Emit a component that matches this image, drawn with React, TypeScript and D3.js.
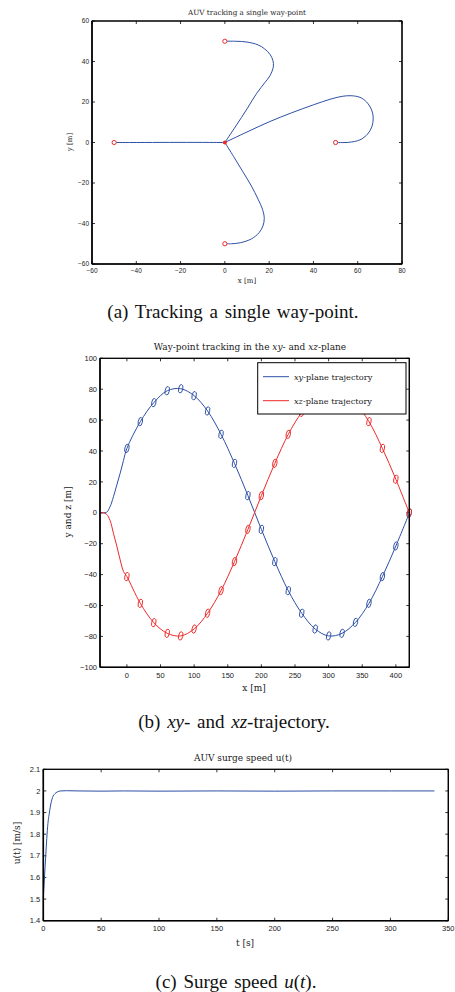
import React, { useRef, useEffect } from 'react';
import * as d3 from 'd3';

// (a) single way-point tracking
const wayPoints = [[-50, 0], [0, 50], [50, 0], [0, -50]];
const pathWest = [[0, 0], [-10, 0.05], [-25, 0.05], [-40, 0], [-50, 0]];
const pathNorth = [[0, 0], [5, 8.2], [10, 16.6], [14.4, 24.3], [18, 29.5], [20.4, 33], [21.9, 37.5], [21.7, 40.5], [20.4, 43.5], [18, 46.2], [15, 48.2], [10, 49.6], [5, 50], [0, 50]];
const pathEast = [[0, 0], [10, 5.2], [20, 10.2], [30, 14.6], [40, 18.6], [48, 21.5], [53, 22.8], [57, 23.1], [61, 22.3], [64, 20], [66.3, 16], [67, 12], [66.4, 7.8], [64.5, 4.2], [61, 1.3], [56, 0.1], [50, 0]];
const pathSouth = [[0, 0], [4, -7], [8, -14.2], [12, -21.5], [15, -28], [17, -33], [17.8, -37.5], [17.2, -41.2], [15.5, -44.5], [12, -47.6], [7, -49.5], [3, -50], [0, -50]];

// (b) xy- and xz-plane
const leadX = [-40, -35, -30, -25, -20, -15, -10, -5];
const xyLead = [0, 0, 0.4, 4, 10.4, 18, 25.6, 34];
const xzLead = [0, 0, -1, -5, -13.3, -21.5, -30.5, -38];
const markerX = [0, 20, 40, 60, 80, 100, 120, 140, 160, 180, 200, 220, 240, 260, 280, 300, 320, 340, 360, 380, 400, 420];
const xyMarks = [41.7, 59, 71.3, 79, 80.3, 75.8, 65.9, 50.8, 32, 11.1, -10.7, -31.6, -50.4, -65, -75.2, -79.7, -78, -70.9, -58.6, -41.3, -21.5, -0.3];
const xzMarks = [-41.3, -58.6, -71.1, -78, -79.7, -75.2, -65, -50.4, -31.6, -10.7, 11.1, 32, 50.8, 65, 75.2, 79.7, 78, 70.9, 59, 41.7, 21.7, 0];

// (c) surge speed
const tSec = [0, 1, 2, 3, 4, 5, 6, 7, 8, 10, 12, 15, 20, 30, 50, 70, 100, 150, 200, 250, 300, 338];
const uSpeed = [1.5, 1.6, 1.69, 1.78, 1.85, 1.89, 1.925, 1.952, 1.97, 1.987, 1.995, 2.0, 2.001, 2.0, 1.999, 2.0, 1.999, 2.0, 1.999, 2.0, 2.0, 2.0];

const BLUE = '#2d4fa6';
const RED = '#f02828';
const SANS = 'Liberation Sans, Arial, sans-serif';
const SERIF = 'DejaVu Serif, serif';
const TIMES = 'Liberation Serif, Times New Roman, serif';

const minus = (v: number, f?: (n: number) => string) => {
  const s = f ? f(Math.abs(v)) : String(Math.abs(v));
  return v < 0 ? '\u2212' + s : s;
};

// MATLAB-ish box with inward ticks on all sides
function drawBox(svg: any, o: any) {
  const xs = d3.scaleLinear().domain(o.xDomain).range([o.left, o.right]);
  const ys = d3.scaleLinear().domain(o.yDomain).range([o.bottom, o.top]);
  const g = svg.append('g');
  const tl = 3;

  g.append('rect')
    .attr('x', o.left).attr('y', o.top)
    .attr('width', o.right - o.left).attr('height', o.bottom - o.top)
    .attr('fill', 'white').attr('stroke', '#000').attr('stroke-width', 1);

  o.xTicks.forEach((t: number) => {
    const x = xs(t);
    g.append('line').attr('x1', x).attr('x2', x).attr('y1', o.bottom).attr('y2', o.bottom - tl).attr('stroke', '#000').attr('stroke-width', 0.8);
    g.append('line').attr('x1', x).attr('x2', x).attr('y1', o.top).attr('y2', o.top + tl).attr('stroke', '#000').attr('stroke-width', 0.8);
    g.append('text')
      .attr('x', x).attr('y', o.bottom + o.xLabDy)
      .attr('text-anchor', 'middle')
      .style('font-family', SANS).style('font-size', o.fs).style('fill', '#222')
      .text(minus(t));
  });
  o.yTicks.forEach((t: number) => {
    const y = ys(t);
    g.append('line').attr('x1', o.left).attr('x2', o.left + tl).attr('y1', y).attr('y2', y).attr('stroke', '#000').attr('stroke-width', 0.8);
    g.append('line').attr('x1', o.right).attr('x2', o.right - tl).attr('y1', y).attr('y2', y).attr('stroke', '#000').attr('stroke-width', 0.8);
    g.append('text')
      .attr('x', o.left - 3).attr('y', y).attr('dy', '0.35em')
      .attr('text-anchor', 'end')
      .style('font-family', SANS).style('font-size', o.fs).style('fill', '#222')
      .text(minus(t, o.yFmt));
  });

  return { xs, ys, g };
}

function frame(svg: any, o: any) {
  // thicker left & bottom edge, like the print
  svg.append('line').attr('x1', o.left).attr('x2', o.right).attr('y1', o.bottom).attr('y2', o.bottom).attr('stroke', '#000').attr('stroke-width', 1.6);
  svg.append('line').attr('x1', o.left).attr('x2', o.left).attr('y1', o.top).attr('y2', o.bottom).attr('stroke', '#000').attr('stroke-width', 1.6);
  svg.append('line').attr('x1', o.right).attr('x2', o.right).attr('y1', o.top).attr('y2', o.bottom).attr('stroke', '#000').attr('stroke-width', 1.2);
  svg.append('line').attr('x1', o.left).attr('x2', o.right).attr('y1', o.top).attr('y2', o.top).attr('stroke', '#000').attr('stroke-width', 1);
}

function serifText(svg: any, x: number, y: number, size: number, parts: [string, boolean][], rotate = false, family = SERIF) {
  const t = svg.append('text')
    .attr('x', x).attr('y', y)
    .attr('text-anchor', 'middle')
    .style('font-family', family).style('font-size', size).style('fill', '#222');
  if (rotate) t.attr('transform', `rotate(-90,${x},${y})`);
  parts.forEach(([s, it]) => {
    t.append('tspan').style('font-style', it ? 'italic' : 'normal').text(s);
  });
  return t;
}

function caption(svg: any, x: number, y: number, parts: [string, boolean][]) {
  return serifText(svg, x, y, 19, parts, false, TIMES).style('word-spacing', '2px').style('fill', '#111');
}

const App = () => {
  const ref = useRef<SVGSVGElement>(null);

  useEffect(() => {
    const svg = d3.select(ref.current);
    svg.selectAll('*').remove();

    // ---------- (a)
    const oa = {
      left: 92, right: 402, top: 21, bottom: 264,
      xDomain: [-60, 80], yDomain: [-60, 60],
      xTicks: d3.range(-60, 81, 20), yTicks: d3.range(-60, 61, 20),
      fs: 6.5, xLabDy: 9,
    };
    const A = drawBox(svg, oa);
    const lineA = d3.line<number[]>().x(d => A.xs(d[0])).y(d => A.ys(d[1])).curve(d3.curveCatmullRom);
    [pathWest, pathNorth, pathEast, pathSouth].forEach(p => {
      svg.append('path').attr('d', lineA(p)).attr('fill', 'none').attr('stroke', BLUE).attr('stroke-width', 1);
    });
    wayPoints.forEach(p => {
      svg.append('circle').attr('cx', A.xs(p[0])).attr('cy', A.ys(p[1])).attr('r', 2.1)
        .attr('fill', 'white').attr('stroke', RED).attr('stroke-width', 1);
    });
    svg.append('circle').attr('cx', A.xs(0)).attr('cy', A.ys(0)).attr('r', 2).attr('fill', RED);
    frame(svg, oa);
    serifText(svg, 247, 15, 7.2, [['AUV tracking a single way-point', false]]);
    serifText(svg, 247, 283, 7, [['x [m]', false]]);
    serifText(svg, 72, 142, 7, [['y [m]', false]], true);
    caption(svg, 233, 318, [['(a) Tracking a single way-point.', false]]);

    // ---------- (b)
    const ob = {
      left: 100, right: 409.3, top: 358.3, bottom: 667.3,
      xDomain: [-40, 420], yDomain: [-100, 100],
      xTicks: d3.range(0, 401, 50), yTicks: d3.range(-100, 101, 20),
      fs: 7.5, xLabDy: 10.5,
    };
    const B = drawBox(svg, ob);
    const lineB = d3.line<number[]>().x(d => B.xs(d[0])).y(d => B.ys(d[1])).curve(d3.curveCatmullRom);
    const xyPts = leadX.map((x, i) => [x, xyLead[i]]).concat(markerX.map((x, i) => [x, xyMarks[i]]));
    const xzPts = leadX.map((x, i) => [x, xzLead[i]]).concat(markerX.map((x, i) => [x, xzMarks[i]]));
    const plot = svg.append('g');
    [[xyPts, xyMarks, BLUE], [xzPts, xzMarks, RED]].forEach(([pts, marks, col]: any) => {
      plot.append('path').attr('d', lineB(pts)).attr('fill', 'none').attr('stroke', col).attr('stroke-width', 1);
      markerX.forEach((x, i) => {
        plot.append('ellipse').attr('cx', B.xs(x)).attr('cy', B.ys(marks[i]))
          .attr('rx', 2.1).attr('ry', 4.3)
          .attr('transform', `rotate(12,${B.xs(x)},${B.ys(marks[i])})`)
          .attr('fill', 'none').attr('stroke', col).attr('stroke-width', 0.9);
      });
    });
    frame(svg, ob);

    // legend
    svg.append('rect').attr('x', 257.7).attr('y', 362.7).attr('width', 148.3).attr('height', 51.3)
      .attr('fill', 'white').attr('stroke', '#000').attr('stroke-width', 1);
    const legend = [[[['xy', true], ['-plane trajectory', false]], BLUE], [[['xz', true], ['-plane trajectory', false]], RED]];
    legend.forEach(([parts, col]: any, i) => {
      const y = 376.7 + i * 24;
      svg.append('line').attr('x1', 263).attr('x2', 289).attr('y1', y).attr('y2', y).attr('stroke', col).attr('stroke-width', 1);
      serifText(svg, 294, y + 3, 8.2, parts).attr('text-anchor', 'start');
    });

    serifText(svg, 250, 350, 9, [['Way-point tracking in the ', false], ['xy', true], ['- and ', false], ['xz', true], ['-plane', false]]);
    serifText(svg, 254, 691, 9, [['x [m]', false]]);
    serifText(svg, 71, 512, 9, [['y and z [m]', false]], true);
    caption(svg, 234, 728, [['(b) ', false], ['xy', true], ['- and ', false], ['xz', true], ['-trajectory.', false]]);

    // ---------- (c)
    const oc = {
      left: 43.3, right: 448.3, top: 769.3, bottom: 920.7,
      xDomain: [0, 350], yDomain: [1.4, 2.1],
      xTicks: d3.range(0, 351, 50), yTicks: [1.4, 1.5, 1.6, 1.7, 1.8, 1.9, 2.0, 2.1],
      fs: 7.5, xLabDy: 10.5, yFmt: (n: number) => d3.format('~g')(+n.toFixed(1)),
    };
    const C = drawBox(svg, oc);
    const lineC = d3.line<number>().x((d, i) => C.xs(tSec[i])).y(d => C.ys(d)).curve(d3.curveMonotoneX);
    svg.append('path').attr('d', lineC(uSpeed)).attr('fill', 'none').attr('stroke', BLUE).attr('stroke-width', 1);
    frame(svg, oc);
    serifText(svg, 243, 761, 9, [['AUV surge speed u(t)', false]]);
    serifText(svg, 245, 946, 9, [['t [s]', false]]);
    serifText(svg, 20, 843, 9, [['u(t) [m/s]', false]], true);
    caption(svg, 236, 988, [['(c) Surge speed ', false], ['u', true], ['(', false], ['t', true], [').', false]]);
  }, []);

  return (
    <svg ref={ref} width={455} height={992}
      style={{ position: 'absolute', left: 0, top: 0, background: 'white', overflow: 'hidden' }} />
  );
};

export default App;
